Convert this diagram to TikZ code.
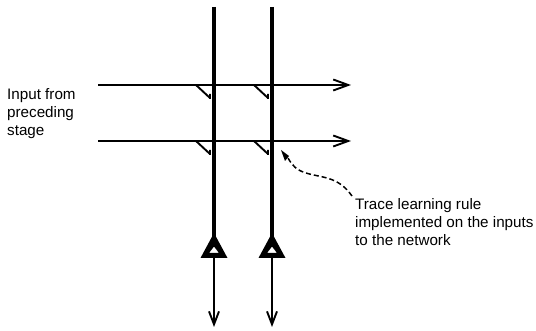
\documentclass[tikz,border=0pt]{standalone}
\usepackage{fontspec}
\setmainfont{Liberation Sans}
\usetikzlibrary{arrows.meta}
\tikzset{
 x=1pt,y=-1pt,
 thickline/.style={line width=3.4pt},
 hline/.style={line width=2.1pt,-{Straight Barb[length=15pt,width=11pt,line width=1.9pt]}},
 outline/.style={line width=2pt,-{Straight Barb[length=13pt,width=10pt,line width=1.9pt]}},
 syn/.style={line width=1.9pt},
 lab/.style={font=\fontsize{15.2pt}{18pt}\selectfont,align=left,anchor=north west,inner sep=0pt},
}
\begin{document}
\begin{tikzpicture}
\useasboundingbox (0,0) rectangle (536,331);
% inputs
\coordinate (h1s) at (98,85); \coordinate (h1e) at (351,85);
\coordinate (h2s) at (98,141); \coordinate (h2e) at (351,141);
\draw[hline] (h1s) -- (h1e);
\draw[hline] (h2s) -- (h2e);
% verticals
\foreach \n/\x in {a/214,b/272}{
  \coordinate (\n top) at (\x,7);
  \coordinate (\n apex) at (\x,238);
  \coordinate (\n base) at (\x,257);
  \coordinate (\n out) at (\x,327);
  \draw[thickline] (\n top) -- (\n apex);
  \fill[even odd rule] (\x,233) -- (\x+13.5,258) -- (\x-13.5,258) -- cycle
     (\x,246.5) -- (\x+5,253) -- (\x-5,253) -- cycle;
  \draw[outline] (\n base) -- (\n out);
  \foreach \y in {85,141}{
    \draw[syn] (\x-18,\y) -- (\x-4,\y+13) (\x-4,\y+9) -- (\x-4,\y+14);
  }
}
% dashed
\coordinate (ds) at (352,196); \coordinate (de) at (281,150);
\draw[line width=1.5pt,dash pattern=on 5pt off 3pt] (ds) .. controls (338,176) and (322,178) .. (306,173) .. controls (296,170) and (292,165) .. (288,158);
\fill (de) -- (289,156) -- (285,161) -- cycle;
% labels
\node[lab] (input) at (7,88) {Input from\\preceding\\stage};
\node[lab] (trace) at (355,198) {Trace learning rule\\implemented on the inputs\\to the network};
\end{tikzpicture}
\end{document}
